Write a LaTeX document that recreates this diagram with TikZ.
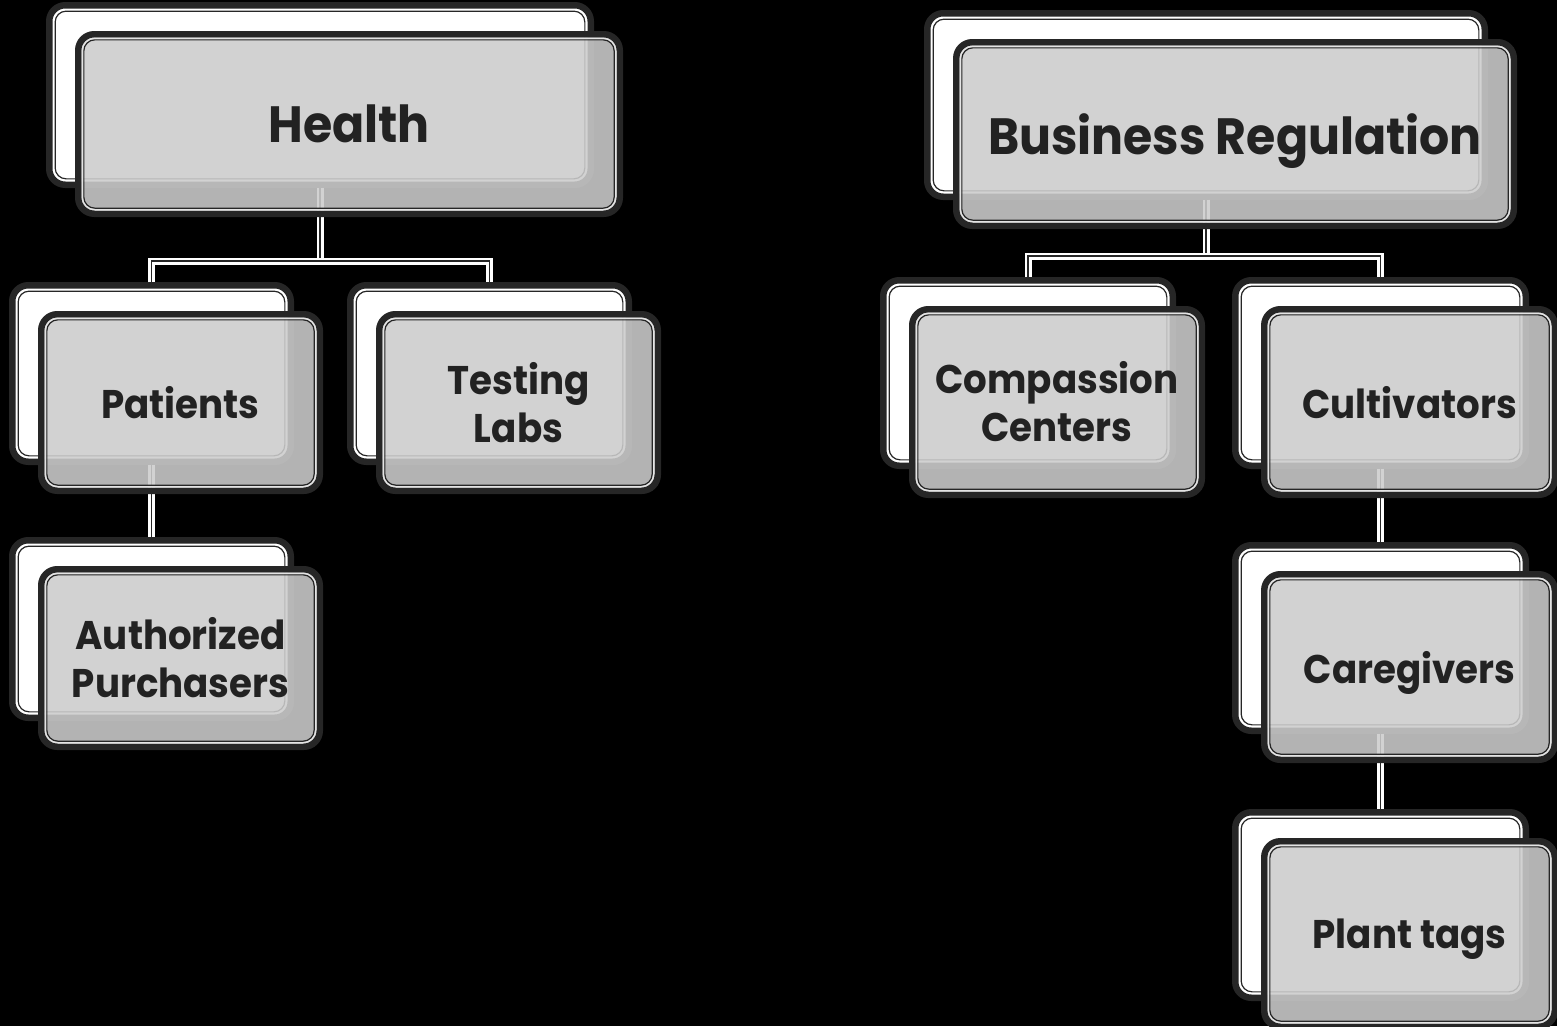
\documentclass[tikz,border=0pt]{standalone}
\usepackage{fontspec}
\setmainfont{Poppins}[FakeStretch=0.93]
\definecolor{dk}{HTML}{262626}
\definecolor{fg}{HTML}{CCCCCC}
\definecolor{tx}{HTML}{222222}
\definecolor{lt}{HTML}{E4E4E4}
\tikzset{
  backbox/.style={draw=dk, line width=6.5pt, fill=white, rounded corners=16pt, inner sep=0pt, outer sep=0pt},
  frontbox/.style={draw=dk, line width=6.5pt, fill=fg, fill opacity=0.88, draw opacity=1, text opacity=1,
    rounded corners=16pt, inner sep=0pt, outer sep=0pt, align=center, text=tx},
  innerdark/.style={draw=dk, line width=1.2pt, rounded corners=11pt},
  innerlight/.style={draw=lt, line width=1.5pt, rounded corners=13pt},
  conn/.style={draw=white, double=dk, line width=2.7pt, double distance=1.6pt},
  headfont/.style={font=\fontsize{51}{56}\selectfont\bfseries},
  subfont/.style={font=\fontsize{40}{48}\selectfont\bfseries},
  oneline/.style={text depth=0pt},
}
% back box: name, L, T, R, B (outer bounds, pixels)
\newcommand\backbx[5]{%
  \node[backbox, minimum width={#4-#2-6.5}, minimum height={#5-#3-6.5}] (#1b) at ({(#2+#4)/2},{(#3+#5)/2}) {};
  \draw[innerdark] ([shift={(5.9,5.9)}]#1b.north west) rectangle ([shift={(-5.9,-5.9)}]#1b.south east);
}
% front box: name, L, T, R, B (outer bounds of the back box), style, text
\newcommand\frontbx[7]{%
  \node[frontbox, #6, minimum width={#4-#2-6.5}, minimum height={#5-#3-6.5}] (#1f) at ({(#2+#4)/2+29},{(#3+#5)/2+29}) {#7};
  \draw[innerlight] ([shift={(4,4)}]#1f.north west) rectangle ([shift={(-4,-4)}]#1f.south east);
  \draw[innerdark] ([shift={(5.6,5.6)}]#1f.north west) rectangle ([shift={(-5.6,-5.6)}]#1f.south east);
}
\begin{document}
\begin{tikzpicture}[x=1pt,y=-1pt]
\useasboundingbox (0,0) rectangle (1557,1026);
\fill[black] (0,0) rectangle (1557,1026);

% back boxes
\backbx{h}{46}{2}{594}{188}
\backbx{p}{9}{282}{294}{465}
\backbx{t}{347}{282}{632}{465}
\backbx{a}{9}{537}{294}{721}
\backbx{br}{924}{10}{1488}{200}
\backbx{cc}{880}{277}{1176}{469}
\backbx{cu}{1232}{277}{1529}{469}
\backbx{cg}{1232}{542}{1529}{734}
\backbx{pt}{1232}{809}{1529}{1001}

% connectors
\coordinate (hj) at (320,261);
\draw[conn] ([yshift=-3pt]hb.south) -- (hj);
\draw[conn] ([yshift=3pt]pb.north) |- (hj) -| ([yshift=3pt]tb.north);
\draw[conn] ([yshift=-3pt]pb.south) -- ([yshift=3pt]ab.north);

\coordinate (bj) at (1206,256);
\draw[conn] ([yshift=-3pt]brb.south) -- (bj);
\draw[conn] ([yshift=3pt]ccb.north) |- (bj) -| ([yshift=3pt]cub.north);
\draw[conn] ([yshift=-3pt]cub.south) -- ([yshift=3pt]cgb.north);
\draw[conn] ([yshift=-3pt]cgb.south) -- ([yshift=3pt]ptb.north);

% front boxes
\frontbx{h}{46}{2}{594}{188}{headfont,oneline}{Health}
\frontbx{p}{9}{282}{294}{465}{subfont,oneline}{Patients}
\frontbx{t}{347}{282}{632}{465}{subfont}{Testing\\Labs}
\frontbx{a}{9}{537}{294}{721}{subfont}{Authorized\\Purchasers}
\frontbx{br}{924}{10}{1488}{200}{headfont,oneline}{Business Regulation}
\frontbx{cc}{880}{277}{1176}{469}{subfont}{Compassion\\Centers}
\frontbx{cu}{1232}{277}{1529}{469}{subfont,oneline}{Cultivators}
\frontbx{cg}{1232}{542}{1529}{734}{subfont,oneline}{Caregivers}
\frontbx{pt}{1232}{809}{1529}{1001}{subfont,oneline}{Plant tags}
\end{tikzpicture}
\end{document}
